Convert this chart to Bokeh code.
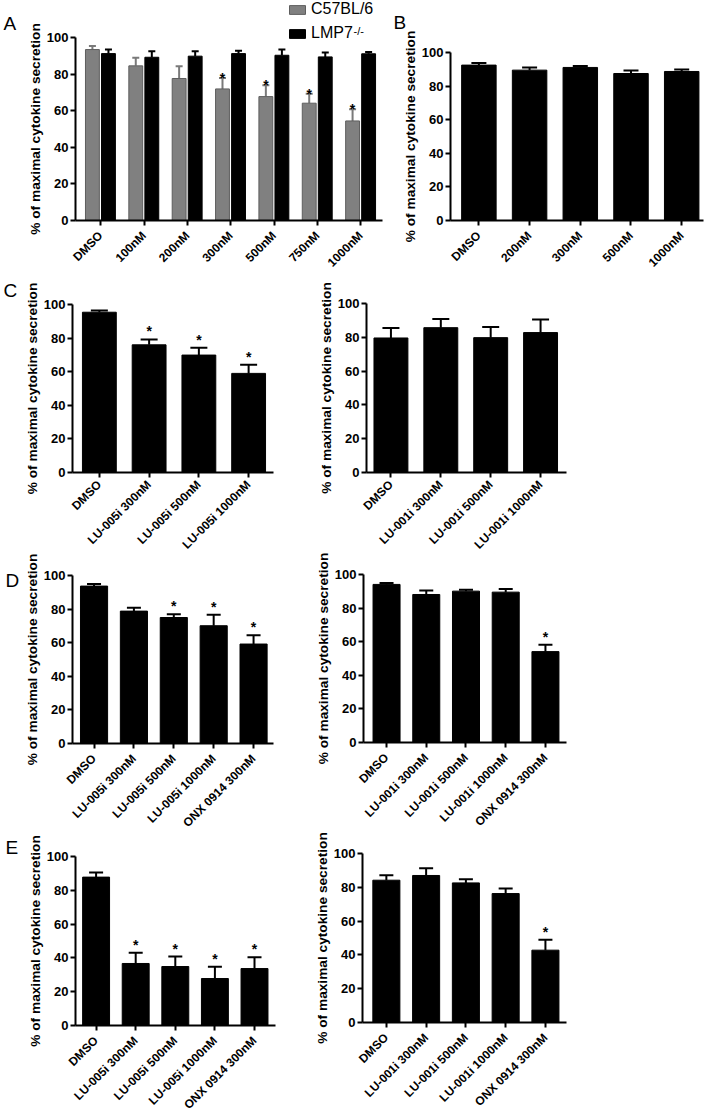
import math
from bokeh.plotting import figure
from bokeh.models import (ColumnDataSource, FixedTicker, Whisker, TeeHead, Label,
                          Legend, LegendItem, Range1d)
from bokeh.layouts import row, column
from bokeh.embed import file_html
from bokeh.resources import INLINE
from bokeh.core.properties import value

FONT = "Liberation Sans"
YLABEL = "% of maximal cytokine secretion"

# ---------------- data ----------------
a_labels = ["DMSO", "100nM", "200nM", "300nM", "500nM", "750nM", "1000nM"]
a_c57 = [93.4, 84.5, 77.6, 71.9, 67.7, 64.1, 54.4]
a_c57_err = [2.0, 4.4, 6.7, 6.0, 6.2, 5.1, 6.4]
a_lmp7 = [91.2, 89.2, 89.8, 91.2, 90.3, 89.4, 91.1]
a_lmp7_err = [2.2, 3.3, 2.7, 1.5, 3.1, 2.4, 1.0]
a_c57_star = [False, False, False, True, True, True, True]

b_labels = ["DMSO", "200nM", "300nM", "500nM", "1000nM"]
b_vals = [92.5, 89.5, 91.1, 87.5, 88.7]
b_err = [1.2, 1.5, 0.8, 1.8, 1.2]
b_star = [False] * 5

c1_labels = ["DMSO", "LU-005i 300nM", "LU-005i 500nM", "LU-005i 1000nM"]
c1_vals = [95.4, 76.0, 69.9, 59.0]
c1_err = [1.0, 3.2, 4.4, 5.2]
c1_star = [False, True, True, True]

c2_labels = ["DMSO", "LU-001i 300nM", "LU-001i 500nM", "LU-001i 1000nM"]
c2_vals = [79.6, 85.7, 79.8, 82.8]
c2_err = [5.9, 5.2, 6.3, 7.7]
c2_star = [False] * 4

d1_labels = ["DMSO", "LU-005i 300nM", "LU-005i 500nM", "LU-005i 1000nM", "ONX 0914 300nM"]
d1_vals = [93.7, 78.8, 75.0, 70.1, 59.2]
d1_err = [1.3, 2.0, 2.0, 6.5, 5.2]
d1_star = [False, False, True, True, True]

d2_labels = ["DMSO", "LU-001i 300nM", "LU-001i 500nM", "LU-001i 1000nM", "ONX 0914 300nM"]
d2_vals = [94.1, 88.1, 90.1, 89.5, 54.1]
d2_err = [0.8, 2.4, 0.8, 1.8, 4.1]
d2_star = [False, False, False, False, True]

e1_labels = ["DMSO", "LU-005i 300nM", "LU-005i 500nM", "LU-005i 1000nM", "ONX 0914 300nM"]
e1_vals = [87.8, 36.7, 34.9, 27.8, 33.7]
e1_err = [2.7, 6.3, 5.9, 6.9, 6.7]
e1_star = [False, True, True, True, True]

e2_labels = ["DMSO", "LU-001i 300nM", "LU-001i 500nM", "LU-001i 1000nM", "ONX 0914 300nM"]
e2_vals = [84.2, 87.0, 82.6, 76.3, 42.8]
e2_err = [3.0, 4.3, 2.2, 3.0, 6.1]
e2_star = [False, False, False, False, True]

y_ticks = [0, 20, 40, 60, 80, 100]


def base_panel(box, axes_px, xd, labels, xstandoff=8):
    """box = (fig_x, fig_y, W, H) in page px; axes_px = (y-axis x, x-axis end, y of 100, y of 0)."""
    fx, fy, W, H = box
    ax_x, ax_end, y100, y0 = axes_px
    xd0, xd1 = xd
    ppx = (ax_end - ax_x) / (xd1 - xd0)
    ppy = (y0 - y100) / 100.0
    xr = (xd0 - (ax_x - fx) / ppx, xd1 + (fx + W - ax_end) / ppx)
    yr = (-(fy + H - y0) / ppy, 100 + (y100 - fy) / ppy)
    p = figure(width=W, height=H, x_range=Range1d(*xr), y_range=Range1d(*yr),
               output_backend="svg", toolbar_location=None, title=None,
               min_border=0, min_border_left=0, min_border_right=0,
               min_border_top=0, min_border_bottom=0)
    p.outline_line_color = None
    p.xgrid.grid_line_color = None
    p.ygrid.grid_line_color = None
    p.xaxis.fixed_location = 0
    p.xaxis.bounds = (xd0, xd1)
    p.yaxis.fixed_location = xd0
    p.yaxis.bounds = (0, 100)
    p.xaxis.ticker = FixedTicker(ticks=list(range(len(labels))))
    p.xaxis.major_label_overrides = {i: lab for i, lab in enumerate(labels)}
    p.xaxis.major_label_orientation = math.pi / 4
    p.xaxis.major_label_text_font_size = "12px"
    p.xaxis.major_tick_out = 5
    p.xaxis.major_label_standoff = xstandoff
    p.yaxis.ticker = FixedTicker(ticks=y_ticks)
    p.yaxis.axis_label = YLABEL
    p.yaxis.major_label_text_font_size = "13px"
    p.yaxis.major_tick_out = 5
    p.yaxis.major_label_standoff = 2
    p.yaxis.axis_label_standoff = 1
    p.yaxis.axis_label_text_font = FONT
    p.yaxis.axis_label_text_font_style = "bold"
    p.yaxis.axis_label_text_font_size = "13.7px"
    p.yaxis.axis_label_text_color = "black"
    for ax in p.axis:
        ax.axis_line_width = 2
        ax.axis_line_color = "black"
        ax.major_tick_line_width = 2
        ax.major_tick_line_color = "black"
        ax.major_tick_in = 0
        ax.minor_tick_line_color = None
        ax.major_label_text_font = FONT
        ax.major_label_text_font_style = "bold"
        ax.major_label_text_color = "black"
    return p


def add_series(p, xs, vals, errs, stars, bar_w, cap, fill, line, err_color,
               star_baseline="bottom"):
    src = ColumnDataSource(dict(x=xs, top=vals, upper=[v + e for v, e in zip(vals, errs)]))
    r = p.vbar(x="x", top="top", bottom=0, width=bar_w, source=src,
               fill_color=fill, line_color=line, line_width=1)
    w = Whisker(source=src, base="x", upper="upper", lower="top", dimension="height",
                line_color=err_color, line_width=2,
                upper_head=TeeHead(size=cap, line_color=err_color, line_width=2),
                lower_head=None)
    p.add_layout(w)
    sx = [x for x, s in zip(xs, stars) if s]
    sy = [v + e for v, e, s in zip(vals, errs, stars) if s]
    if sx:
        p.text(x=sx, y=sy, text=["*"] * len(sx), text_font=value(FONT),
               text_font_size="14px", text_font_style="bold", text_align="center",
               text_baseline=star_baseline, text_color="black")
    return r


def letter(p, txt, x, y):
    p.add_layout(Label(x=x, y=y, x_units="screen", y_units="screen", text=txt,
                       text_font=FONT, text_font_size="19px", text_baseline="alphabetic",
                       text_align="left", text_color="black"))


def simple_panel(box, axes_px, xd, labels, vals, errs, stars, cap, xstandoff=8):
    p = base_panel(box, axes_px, xd, labels, xstandoff)
    add_series(p, list(range(len(labels))), vals, errs, stars, 0.68, cap,
               "black", "black", "black")
    return p


# ---------------- panel A ----------------
pa = base_panel((0, 0, 392, 272), (75, 382, 37, 220), (-0.58, 6.5), a_labels)
xg = [i - 0.19 for i in range(len(a_labels))]
xb = [i + 0.18 for i in range(len(a_labels))]
rg = add_series(pa, xg, a_c57, a_c57_err, a_c57_star, 0.32, 7, "#808080", "#5e5e5e", "#7a7a7a",
                star_baseline="alphabetic")
rb = add_series(pa, xb, a_lmp7, a_lmp7_err, [False] * 7, 0.32, 7, "black", "black", "black")
leg = Legend(items=[LegendItem(label="C57BL/6", renderers=[rg]),
                    LegendItem(label="LMP7", renderers=[rb])],
             location=(287, 230), glyph_width=20, glyph_height=11, label_height=11,
             label_standoff=4, spacing=6, padding=0, margin=0,
             border_line_color=None, background_fill_alpha=0,
             label_text_font=FONT, label_text_font_size="16px", label_text_color="black")
pa.add_layout(leg)
pa.add_layout(Label(x=353, y=242, x_units="screen", y_units="screen", text="-/-",
                    text_font=FONT, text_font_size="11px", text_baseline="middle",
                    text_color="black"))
letter(pa, "A", 3, 249)

# ---------------- panel B ----------------
pb = simple_panel((392, 0, 317, 272), (450, 703, 52, 220), (-0.56, 4.43),
                  b_labels, b_vals, b_err, b_star, 15)
letter(pb, "B", 1, 250)

# ---------------- panel C ----------------
pc1 = simple_panel((0, 272, 300, 280), (72, 273, 304, 472), (-0.54, 3.5),
                   c1_labels, c1_vals, c1_err, c1_star, 17, xstandoff=5)
letter(pc1, "C", 3, 262)
pc2 = simple_panel((300, 272, 409, 280), (366, 566, 303, 472), (-0.49, 3.52),
                   c2_labels, c2_vals, c2_err, c2_star, 17, xstandoff=5)

# ---------------- panel D ----------------
pd1 = simple_panel((0, 552, 300, 278), (72, 273, 575, 743), (-0.54, 4.5),
                   d1_labels, d1_vals, d1_err, d1_star, 14)
letter(pd1, "D", 5, 250)
pd2 = simple_panel((300, 552, 409, 278), (363, 566, 574, 742), (-0.58, 4.53),
                   d2_labels, d2_vals, d2_err, d2_star, 14)

# ---------------- panel E ----------------
pe1 = simple_panel((0, 830, 300, 282), (75, 275, 856, 1025), (-0.52, 4.53),
                   e1_labels, e1_vals, e1_err, e1_star, 14)
letter(pe1, "E", 5, 265)
pe2 = simple_panel((300, 830, 409, 282), (362, 566, 853, 1022), (-0.6, 4.53),
                   e2_labels, e2_vals, e2_err, e2_star, 14)

layout = column(row(pa, pb), row(pc1, pc2), row(pd1, pd2), row(pe1, pe2))

open("out.html", "w").write(file_html(layout, INLINE))
